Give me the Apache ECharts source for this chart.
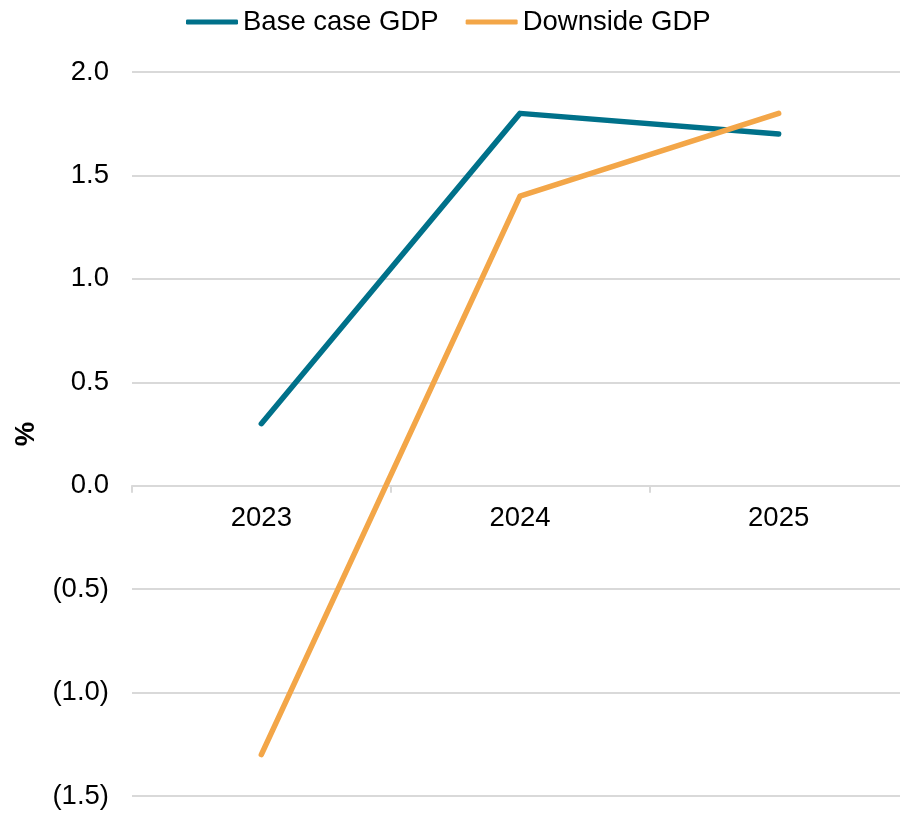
<!DOCTYPE html>
<html>
<head>
<meta charset="utf-8">
<script src="https://cdn.jsdelivr.net/npm/echarts@6/dist/echarts.min.js"></script>
<style>
  html, body { margin: 0; padding: 0; background: #fff; }
  #gdpChart { width: 900px; height: 813px; }
</style>
</head>
<body>
<div id="gdpChart"></div>
<script>
  const years = ['2023', '2024', '2025'];
  const baseCase = [0.3, 1.8, 1.7];
  const downside = [-1.3, 1.4, 1.8];

  const chart = echarts.init(document.getElementById('gdpChart'));
  const font = 'Liberation Sans, Arial, sans-serif';

  // negative values shown in brackets
  function pct(v) {
    return v < 0 ? '(' + Math.abs(v).toFixed(1) + ')' : v.toFixed(1);
  }

  const yMin = -1.5, yMax = 2;
  const gridTop = 72, gridBottom = 17;
  // move the category axis up to the zero line
  const plotH = 813 - gridTop - gridBottom;
  const zeroOffset = -plotH * (0 - yMin) / (yMax - yMin);

  const option = {
    animation: false,
    textStyle: { fontFamily: font },
    legend: {
      top: 3,
      left: 181,
      itemWidth: 52,
      itemHeight: 5,
      itemGap: 27,
      icon: 'roundRect',
      textStyle: { fontSize: 27.5, color: '#000', fontFamily: font },
      data: ['Base case GDP', 'Downside GDP']
    },
    grid: {
      left: 132, right: -8, top: gridTop, bottom: gridBottom,
      outerBoundsMode: 'none'
    },
    xAxis: {
      type: 'category',
      data: years,
      boundaryGap: true,
      offset: zeroOffset,
      axisLine: { onZero: false, lineStyle: { color: '#d9d9d9', width: 2 } },
      axisTick: { show: true, length: 7, lineStyle: { color: '#d9d9d9', width: 2 } },
      axisLabel: { fontSize: 27.5, color: '#000', margin: 19, fontFamily: font },
      splitLine: { show: false }
    },
    yAxis: {
      type: 'value',
      min: yMin,
      max: yMax,
      interval: 0.5,
      name: '%',
      nameLocation: 'middle',
      nameGap: 92,
      nameRotate: 90,
      nameTextStyle: { fontSize: 27.5, fontWeight: 'bold', color: '#000', fontFamily: font },
      axisLine: { show: false },
      axisTick: { show: false },
      axisLabel: { fontSize: 27.5, color: '#000', margin: 23, formatter: pct, fontFamily: font },
      splitLine: { lineStyle: { color: '#d9d9d9', width: 2 } }
    },
    series: [
      {
        name: 'Base case GDP',
        type: 'line',
        data: baseCase,
        symbol: 'none',
        color: '#00718a',
        lineStyle: { width: 5.5, cap: 'round', join: 'round' }
      },
      {
        name: 'Downside GDP',
        type: 'line',
        data: downside,
        symbol: 'none',
        color: '#f3a648',
        lineStyle: { width: 5.5, cap: 'round', join: 'round' }
      }
    ]
  };

  chart.setOption(option);
</script>
</body>
</html>
